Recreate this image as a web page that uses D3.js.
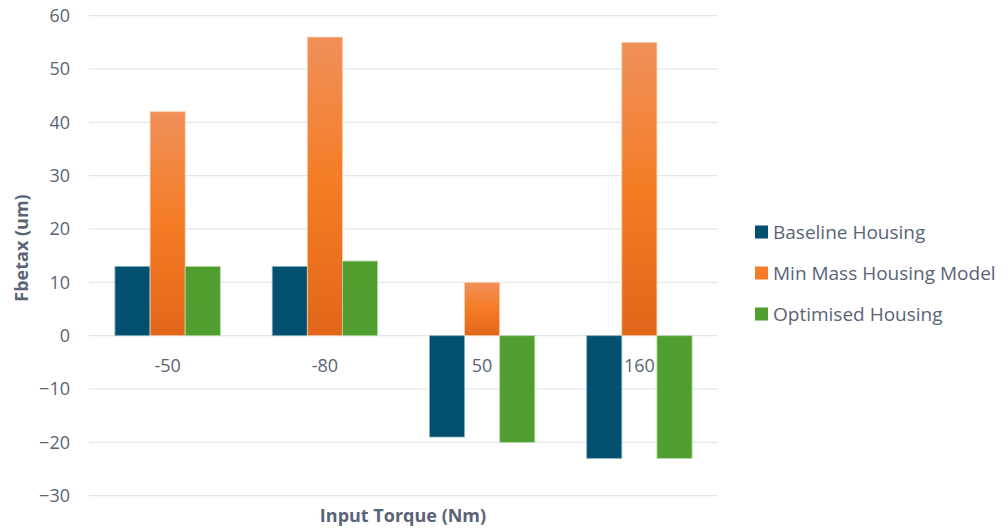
<!DOCTYPE html>
<html>
<head>
<meta charset="utf-8">
<script src="https://cdn.jsdelivr.net/npm/d3@7"></script>
<style>
  html, body { margin: 0; padding: 0; background: #ffffff; }
  svg { display: block; }
  text { font-family: "Open Sans", "Noto Sans", sans-serif; }
</style>
</head>
<body>
<svg id="chart" width="1004" height="528"></svg>
<script>
// Input torque cases and deflection results per housing design
const categories = ["-50", "-80", "50", "160"];
const seriesNames = ["Baseline Housing", "Min Mass Housing Model", "Optimised Housing"];
const baseline = [13, 13, -19, -23];
const minMass = [42, 56, 10, 55];
const optimised = [13, 14, -20, -23];
const yTicks = [-30, -20, -10, 0, 10, 20, 30, 40, 50, 60];

const seriesValues = [baseline, minMass, optimised];
const fills = ["#01506f", "url(#orangeGrad)", "#509e2f"];
const swatches = ["#01506f", "#f47b2a", "#509e2f"];
const strokes = ["#8fb1c3", "#fbcfae", "#b5d8a4"];

const svg = d3.select("#chart");
const textColor = "#5a6476";

const margin = { left: 89, right: 286, top: 15.7, bottom: 32.3 };
const W = 1004, H = 528;

const defs = svg.append("defs");
const grad = defs.append("linearGradient")
  .attr("id", "orangeGrad")
  .attr("x1", 0).attr("y1", 0).attr("x2", 0).attr("y2", 1);
grad.append("stop").attr("offset", "0%").attr("stop-color", "#f0905a");
grad.append("stop").attr("offset", "50%").attr("stop-color", "#f47c24");
grad.append("stop").attr("offset", "100%").attr("stop-color", "#e2661a");

const x0 = d3.scaleBand()
  .domain(categories)
  .range([margin.left, W - margin.right])
  .paddingInner(0.33)
  .paddingOuter(0.165);

const x1 = d3.scaleBand()
  .domain(d3.range(seriesNames.length))
  .range([0, x0.bandwidth()]);

const y = d3.scaleLinear()
  .domain([-30, 60])
  .range([H - margin.bottom, margin.top]);

// Horizontal gridlines
svg.append("g")
  .selectAll("line")
  .data(yTicks)
  .join("line")
  .attr("x1", margin.left)
  .attr("x2", W - margin.right)
  .attr("y1", d => y(d))
  .attr("y2", d => y(d))
  .attr("stroke", "#e3e7ec")
  .attr("stroke-width", 1.3);

// Y axis tick labels
const yAxis = d3.axisLeft(y).tickValues(yTicks).tickSize(0).tickPadding(0);
const gy = svg.append("g")
  .attr("transform", `translate(${70},0)`)
  .call(yAxis);
gy.select(".domain").remove();
gy.selectAll("text")
  .attr("fill", textColor)
  .attr("font-size", 18)
  .attr("font-family", "'Open Sans', sans-serif");

// Bars
const groups = svg.append("g")
  .selectAll("g")
  .data(categories)
  .join("g")
  .attr("transform", d => `translate(${x0(d)},0)`);

groups.selectAll("rect")
  .data((c, i) => seriesValues.map((vals, s) => ({ s, v: vals[i] })))
  .join("rect")
  .attr("x", d => x1(d.s))
  .attr("width", x1.bandwidth())
  .attr("y", d => y(Math.max(0, d.v)))
  .attr("height", d => Math.abs(y(d.v) - y(0)))
  .attr("fill", d => fills[d.s])
  .attr("stroke", d => strokes[d.s])
  .attr("stroke-width", 0.8);

// Category labels sit just below the zero line
const xAxis = d3.axisBottom(x0).tickSize(0).tickPadding(0);
const gx = svg.append("g")
  .attr("transform", `translate(0,${y(0)})`)
  .call(xAxis);
gx.select(".domain").remove();
gx.selectAll("text")
  .attr("y", 30)
  .attr("dy", "0.35em")
  .attr("fill", textColor)
  .attr("font-size", 18)
  .attr("font-family", "'Open Sans', sans-serif");

// Axis titles
svg.append("text")
  .attr("transform", `translate(28,${248}) rotate(-90)`)
  .attr("text-anchor", "middle")
  .attr("fill", textColor)
  .attr("font-size", 18)
  .attr("font-weight", "bold")
  .text("Fbetax (um)");

svg.append("text")
  .attr("x", 403)
  .attr("y", 522)
  .attr("text-anchor", "middle")
  .attr("fill", textColor)
  .attr("font-size", 18)
  .attr("font-weight", "bold")
  .text("Input Torque (Nm)");

// Legend
const legend = svg.append("g")
  .selectAll("g")
  .data(seriesNames)
  .join("g")
  .attr("transform", (d, i) => `translate(755,${232 + i * 41})`);

legend.append("rect")
  .attr("x", 0).attr("y", -6.5)
  .attr("width", 13).attr("height", 13)
  .attr("fill", (d, i) => swatches[i]);

legend.append("text")
  .attr("x", 18)
  .attr("y", 0)
  .attr("dy", "0.35em")
  .attr("fill", textColor)
  .attr("font-size", 19)
  .text(d => d);
</script>
</body>
</html>
